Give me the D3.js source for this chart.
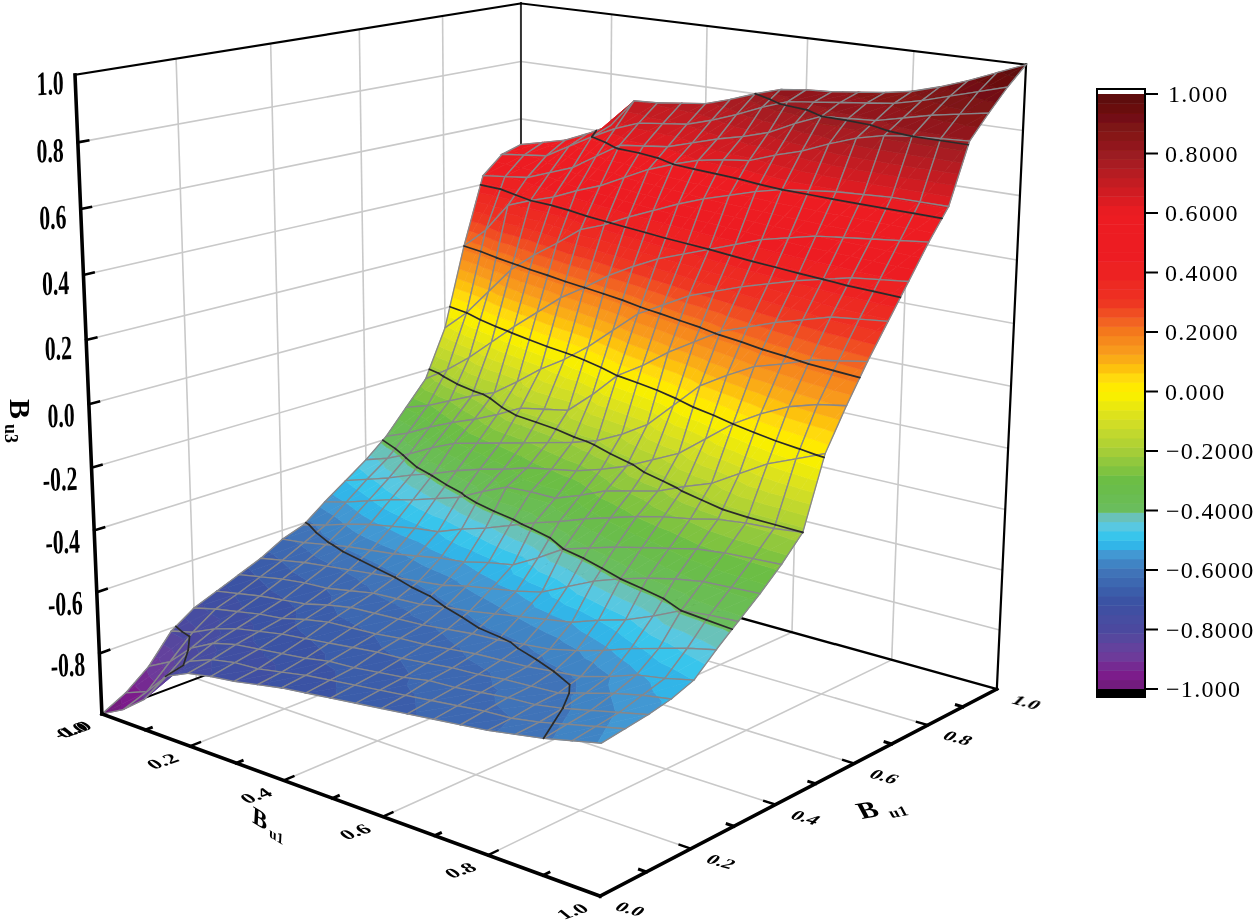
<!DOCTYPE html>
<html>
<head>
<meta charset="utf-8">
<script src="https://cdnjs.cloudflare.com/ajax/libs/d3/7.8.5/d3.min.js"></script>
<style>
html, body { margin: 0; padding: 0; background: #fff; }
text { font-family: "Liberation Serif", serif; fill: #000; }
</style>
</head>
<body>
<div id="chart"></div>
<script>
// grid of the surface, columns are Bu1 (x), rows are Bu2 (y)
const xValues = d3.range(21).map(i => i / 20)
const yValues = d3.range(21).map(i => i / 20)
const zRows = [
  [-1.00,-0.96,-0.90,-0.80,-0.765,-0.75,-0.74,-0.725,-0.71,-0.70,-0.69,-0.68,-0.67,-0.66,-0.65,-0.64,-0.63,-0.615,-0.60,-0.58,-0.56],
  [-0.96,-0.93,-0.85,-0.78,-0.75,-0.735,-0.73,-0.715,-0.70,-0.69,-0.68,-0.67,-0.66,-0.65,-0.64,-0.63,-0.625,-0.61,-0.59,-0.57,-0.55],
  [-0.90,-0.86,-0.79,-0.75,-0.73,-0.72,-0.71,-0.70,-0.685,-0.68,-0.67,-0.66,-0.645,-0.64,-0.63,-0.62,-0.615,-0.60,-0.58,-0.56,-0.54],
  [-0.81,-0.79,-0.755,-0.73,-0.715,-0.70,-0.69,-0.68,-0.67,-0.66,-0.655,-0.645,-0.635,-0.63,-0.62,-0.615,-0.61,-0.585,-0.56,-0.54,-0.525],
  [-0.76,-0.74,-0.725,-0.71,-0.70,-0.68,-0.665,-0.66,-0.655,-0.645,-0.64,-0.63,-0.62,-0.615,-0.61,-0.60,-0.59,-0.565,-0.535,-0.52,-0.50],
  [-0.73,-0.715,-0.70,-0.69,-0.68,-0.66,-0.645,-0.64,-0.635,-0.63,-0.62,-0.61,-0.605,-0.595,-0.585,-0.565,-0.54,-0.51,-0.485,-0.46,-0.44],
  [-0.70,-0.685,-0.67,-0.66,-0.655,-0.64,-0.625,-0.62,-0.615,-0.60,-0.59,-0.575,-0.56,-0.545,-0.53,-0.50,-0.475,-0.44,-0.40,-0.39,-0.385],
  [-0.67,-0.655,-0.64,-0.63,-0.62,-0.61,-0.60,-0.59,-0.58,-0.56,-0.545,-0.53,-0.51,-0.47,-0.43,-0.40,-0.375,-0.355,-0.34,-0.335,-0.33],
  [-0.63,-0.62,-0.605,-0.59,-0.58,-0.57,-0.555,-0.54,-0.53,-0.51,-0.495,-0.45,-0.40,-0.375,-0.35,-0.33,-0.31,-0.29,-0.28,-0.275,-0.27],
  [-0.605,-0.585,-0.56,-0.54,-0.525,-0.51,-0.50,-0.47,-0.445,-0.415,-0.385,-0.36,-0.33,-0.305,-0.28,-0.26,-0.245,-0.225,-0.215,-0.21,-0.20],
  [-0.55,-0.53,-0.505,-0.48,-0.46,-0.435,-0.41,-0.37,-0.335,-0.33,-0.33,-0.30,-0.265,-0.245,-0.225,-0.19,-0.16,-0.11,-0.06,-0.025,0.01],
  [-0.50,-0.475,-0.45,-0.42,-0.395,-0.365,-0.34,-0.32,-0.295,-0.28,-0.265,-0.24,-0.21,-0.17,-0.13,-0.065,0.00,0.05,0.09,0.115,0.13],
  [-0.45,-0.425,-0.39,-0.35,-0.315,-0.295,-0.275,-0.255,-0.235,-0.215,-0.19,-0.15,-0.10,-0.02,0.06,0.11,0.155,0.18,0.21,0.225,0.24],
  [-0.39,-0.36,-0.32,-0.285,-0.255,-0.22,-0.18,-0.165,-0.15,-0.08,0.00,0.05,0.11,0.16,0.21,0.24,0.27,0.295,0.32,0.33,0.34],
  [-0.31,-0.285,-0.25,-0.215,-0.185,-0.13,-0.07,-0.02,0.04,0.11,0.18,0.225,0.27,0.30,0.33,0.355,0.38,0.40,0.42,0.43,0.44],
  [-0.23,-0.18,-0.12,-0.05,0.02,0.085,0.15,0.20,0.255,0.30,0.34,0.37,0.40,0.43,0.46,0.48,0.50,0.51,0.52,0.53,0.54],
  [-0.07,0.00,0.09,0.18,0.245,0.30,0.36,0.39,0.43,0.465,0.50,0.53,0.555,0.58,0.60,0.61,0.62,0.625,0.63,0.63,0.63],
  [0.20,0.27,0.37,0.40,0.425,0.46,0.49,0.53,0.57,0.60,0.625,0.64,0.65,0.68,0.705,0.74,0.77,0.79,0.80,0.805,0.81],
  [0.43,0.44,0.45,0.48,0.51,0.56,0.61,0.62,0.63,0.655,0.68,0.70,0.725,0.765,0.80,0.805,0.81,0.83,0.85,0.865,0.88],
  [0.49,0.50,0.51,0.555,0.60,0.64,0.67,0.68,0.69,0.715,0.745,0.78,0.81,0.82,0.83,0.84,0.85,0.87,0.895,0.92,0.945],
  [0.51,0.53,0.55,0.585,0.625,0.72,0.725,0.735,0.745,0.77,0.80,0.825,0.835,0.84,0.85,0.86,0.875,0.90,0.93,0.965,1.00]
]

const axisTicks = [0.2, 0.4, 0.6, 0.8]
const zTicks = [-0.8, -0.6, -0.4, -0.2, 0, 0.2, 0.4, 0.6, 0.8]
const zLabels = ['-0.8', '-0.6', '-0.4', '-0.2', '0.0', '0.2', '0.4', '0.6', '0.8']
const contourLevels = [-0.8, -0.6, -0.4, -0.2, 0, 0.2, 0.4, 0.6, 0.8]
const barTicks = [1, 0.8, 0.6, 0.4, 0.2, 0, -0.2, -0.4, -0.6, -0.8, -1]
const barLabels = ['1.000', '0.8000', '0.6000', '0.4000', '0.2000', '0.000', '\u22120.2000', '\u22120.4000', '\u22120.6000', '\u22120.8000', '\u22121.000']

const colorLevels = [-1, -0.95, -0.88, -0.8, -0.7, -0.6, -0.55, -0.5, -0.45, -0.41, -0.39, -0.3, -0.2, -0.1, 0, 0.05, 0.1, 0.15, 0.2, 0.25, 0.3, 0.4, 0.6, 0.7, 0.8, 0.9, 1]
const colorStops = ['#6f1f78', '#7c1f8c', '#6a3f9c', '#4d4a9f', '#3a53a4', '#3f76ba', '#4495d1', '#29c3f2', '#5cc8e0', '#6ec0a8', '#6abd5a', '#6abd45', '#a6ce39', '#d4de25', '#fff200', '#ffd80a', '#fbb116', '#f7941d', '#f47a1f', '#f15a22', '#ee3524', '#ed2024', '#ed1c24', '#c41e24', '#9a1c20', '#7a1214', '#5a0a0a']

// where the box corners sit on the page: [x, y, z, pageX, pageY]
const boxCorners = [
  [0, 0, 0, 102, 713], [1, 0, 0, 600, 897], [1, 1, 0, 997, 688], [0, 1, 0, 521, 558],
  [0, 0, 1, 75, 75], [0, 1, 1, 521, 3], [1, 1, 1, 1026, 65]
]

const width = 1255, height = 923
const bandCount = 64

// least squares fit of the perspective matrix from the corners
function fitCamera(pts) {
  const rows = []
  pts.forEach(([x, y, z, X, Y]) => {
    rows.push([1, x, y, z, 0, 0, 0, 0, -X * x, -X * y, -X * z, X])
    rows.push([0, 0, 0, 0, 1, x, y, z, -Y * x, -Y * y, -Y * z, Y])
  })
  const n = 11
  const m = d3.range(n).map(i => d3.range(n + 1).map(j => d3.sum(rows, r => r[i] * r[j])))
  for (let c = 0; c < n; c++) {
    let p = c
    for (let r = c + 1; r < n; r++) if (Math.abs(m[r][c]) > Math.abs(m[p][c])) p = r
    ;[m[c], m[p]] = [m[p], m[c]]
    for (let r = 0; r < n; r++) {
      if (r === c) continue
      const f = m[r][c] / m[c][c]
      for (let k = c; k <= n; k++) m[r][k] -= f * m[c][k]
    }
  }
  return d3.range(n).map(i => m[i][n] / m[i][i])
}
const cam = fitCamera(boxCorners)

const xScale = d3.scaleLinear().domain([0, 1]).range([0, 1])
const yScale = d3.scaleLinear().domain([0, 1]).range([0, 1])
const zScale = d3.scaleLinear().domain([-1, 1]).range([0, 1])

function project(xv, yv, zv) {
  const x = xScale(xv), y = yScale(yv), z = zScale(zv)
  const w = 1 + cam[8] * x + cam[9] * y + cam[10] * z
  return [
    (cam[0] + cam[1] * x + cam[2] * y + cam[3] * z) / w,
    (cam[4] + cam[5] * x + cam[6] * y + cam[7] * z) / w
  ]
}

const colorOf = d3.scaleLinear().domain(colorLevels).range(colorStops).interpolate(d3.interpolateRgb)
const bandOf = z => Math.min(bandCount - 1, Math.floor((z + 1) / 2 * bandCount))
const bandLow = k => -1 + k * 2 / bandCount
const bandColor = k => colorOf(bandLow(k) + 1 / bandCount)

const line3d = d3.line().x(p => p[0]).y(p => p[1])
const path3d = pts => line3d(pts.map(p => project(p[0], p[1], p[2])))

const svg = d3.select('#chart').append('svg')
  .attr('width', width)
  .attr('height', height)
  .style('display', 'block')

const defs = svg.append('defs')
defs.append('filter').attr('id', 'soft')
  .attr('filterUnits', 'userSpaceOnUse')
  .attr('x', 0).attr('y', 0).attr('width', width).attr('height', height)
  .append('feGaussianBlur').attr('stdDeviation', 0.5)

const root = svg.append('g').attr('filter', 'url(#soft)')

// walls and floor grid
const grid = root.append('g').attr('fill', 'none').attr('stroke', '#c9c9c9').attr('stroke-width', 1.6)
function gridLine(a, b) { grid.append('path').attr('d', path3d([a, b])) }
axisTicks.forEach(t => {
  gridLine([t, 0, -1], [t, 1, -1])
  gridLine([0, t, -1], [1, t, -1])
  gridLine([0, t, -1], [0, t, 1])
  gridLine([t, 1, -1], [t, 1, 1])
})
zTicks.forEach(t => {
  gridLine([0, 0, t], [0, 1, t])
  gridLine([0, 1, t], [1, 1, t])
})

// box lines behind the surface
const box = root.append('g').attr('fill', 'none').attr('stroke', '#000').attr('stroke-linecap', 'square')
function boxLine(a, b, w, c) {
  box.append('path').attr('d', path3d([a, b])).attr('stroke-width', w).attr('stroke', c || '#000')
}
boxLine([0, 0, -1], [0, 1, -1], 2)
boxLine([0, 1, -1], [1, 1, -1], 2.4)
boxLine([0, 1, -1], [0, 1, 1], 2, '#333')
boxLine([0, 0, 1], [0, 1, 1], 2.2)
boxLine([0, 1, 1], [1, 1, 1], 2)
boxLine([1, 1, -1], [1, 1, 1], 2.2)

// cut one triangle to the part between two z values
function clipZ(poly, limit, keepAbove) {
  const out = []
  poly.forEach((p, i) => {
    const q = poly[(i + 1) % poly.length]
    const pIn = keepAbove ? p[2] >= limit : p[2] <= limit
    const qIn = keepAbove ? q[2] >= limit : q[2] <= limit
    if (pIn) out.push(p)
    if (pIn !== qIn) {
      const t = (limit - p[2]) / (q[2] - p[2])
      out.push([p[0] + t * (q[0] - p[0]), p[1] + t * (q[1] - p[1]), limit])
    }
  })
  return out
}

// contour pieces across one grid cell
function cellContours(quad, level) {
  const hits = []
  quad.forEach((p, i) => {
    const q = quad[(i + 1) % 4]
    if ((p[2] < level) !== (q[2] < level)) {
      const t = (level - p[2]) / (q[2] - p[2])
      hits.push([p[0] + t * (q[0] - p[0]), p[1] + t * (q[1] - p[1]), level])
    }
  })
  const segs = []
  for (let i = 0; i + 1 < hits.length; i += 2) segs.push([hits[i], hits[i + 1]])
  return segs
}

// painter's order, far corner first
const surface = root.append('g')
const contourSegments = []
for (let j = yValues.length - 2; j >= 0; j--) {
  for (let i = 0; i < xValues.length - 1; i++) {
    const a = [xValues[i], yValues[j], zRows[j][i]]
    const b = [xValues[i + 1], yValues[j], zRows[j][i + 1]]
    const c = [xValues[i + 1], yValues[j + 1], zRows[j + 1][i + 1]]
    const d = [xValues[i], yValues[j + 1], zRows[j + 1][i]]
    const cell = surface.append('g')
    const polys = []
    ;[[a, b, c], [a, c, d]].forEach(tri => {
      const zs = tri.map(p => p[2])
      const kMin = bandOf(d3.min(zs)), kMax = bandOf(d3.max(zs))
      for (let k = kMin; k <= kMax; k++) {
        let poly = clipZ(tri, bandLow(k), true)
        if (poly.length) poly = clipZ(poly, bandLow(k + 1), false)
        if (poly.length > 2) polys.push({ poly, k })
      }
    })
    contourLevels.forEach(level => {
      cellContours([a, b, c, d], level).forEach(s => contourSegments.push(s))
    })
    cell.selectAll('path.band')
      .data(polys)
      .enter()
      .append('path')
      .attr('class', 'band')
      .attr('d', d => path3d(d.poly) + 'Z')
      .attr('fill', d => bandColor(d.k))
      .attr('stroke', d => bandColor(d.k))
      .attr('stroke-width', 0.7)
    cell.append('path')
      .attr('d', path3d([a, b, c, d]) + 'Z')
      .attr('fill', 'none')
      .attr('stroke', '#87878a')
      .attr('stroke-width', 1.35)
  }
}

root.append('g').selectAll('path')
  .data(contourSegments)
  .enter()
  .append('path')
  .attr('d', d => path3d(d))
  .attr('fill', 'none')
  .attr('stroke', '#2b2b2b')
  .attr('stroke-width', 1.7)
  .attr('stroke-linecap', 'round')

// front axes
const axes = root.append('g').attr('fill', 'none').attr('stroke', '#000').attr('stroke-linecap', 'square')
function axisLine(a, b, w) { axes.append('path').attr('d', path3d([a, b])).attr('stroke-width', w) }
axisLine([0, 0, -1], [0, 0, 1], 3.6)
axisLine([0, 0, -1], [1, 0, -1], 3.6)
axisLine([1, 0, -1], [1, 1, -1], 3.6)

const minorTicks = [0.1, 0.3, 0.5, 0.7, 0.9]
minorTicks.forEach(t => {
  axisLine([t, 0, -1], [t, 0.012, -1], 3)
  axisLine([1, t, -1], [0.988, t, -1], 3)
})
axisTicks.forEach(t => {
  axisLine([t, 0, -1], [t, 0.02, -1], 2.4)
  axisLine([1, t, -1], [0.98, t, -1], 2.4)
})
zTicks.forEach(t => axisLine([0, 0, t], [0, 0.02, t], 2.6))

// labels, squeezed so that they look laid on the walls and the floor
const labels = root.append('g').attr('font-weight', 'bold')
function putText(str, x, y, m, size, anchor) {
  return labels.append('text')
    .attr('transform', `matrix(${m[0]},${m[1]},${m[2]},${m[3]},${x},${y})`)
    .attr('font-size', size)
    .attr('text-anchor', anchor || 'middle')
    .text(str)
}
const wallM = [0.99, -0.05, 0.03, 1.55]
const floorLeftM = [0.92, -0.32, 0.62, 0.5]
const floorRightM = [0.93, 0.26, -0.55, 0.55]

zTicks.concat([1]).forEach((t, i) => {
  const p = project(0, 0, t)
  const s = t === 1 ? '1.0' : zLabels[i]
  const dy = t === 1 ? 19 : (t > 0.1 ? 19 : 22)
  putText(s, p[0] - (t === 1 ? 11 : 14), p[1] + dy, wallM, 22, 'end')
})

axisTicks.concat([1]).forEach(t => {
  const p = project(t, 0, -1)
  putText(d3.format('.1f')(t), p[0] - 23, p[1] + 19, floorLeftM, 23)
})
;[0].concat(axisTicks, [1]).forEach(t => {
  const p = project(1, t, -1)
  putText(d3.format('.1f')(t), p[0] + 26, p[1] + 17, floorRightM, 22)
})
const corner = project(0, 0, -1)
putText('-1.0', corner[0] - 25, corner[1] + 20, floorLeftM, 23)
putText('0.0', corner[0] - 25, corner[1] + 20, floorLeftM, 23)

// axis titles
function title(x, y, m, size, sub, gap) {
  const t = putText('B', x, y, m, size, 'start')
  t.append('tspan').attr('font-size', size * 0.6).attr('dx', gap).attr('dy', size * 0.16).text(sub)
}
title(10, 399, [0, 1, -1, 0], 30, 'u3', 5)
title(252, 822, [0.82, 0.5, -0.05, 0.9], 27, 'u1', 3)
title(862, 819, [0.95, -0.16, 0.4, 0.75], 30, 'u1', 9)

// colour bar
const barScale = d3.scaleLinear().domain([-1, 1]).range([689, 94])
const bar = root.append('g')
const bandBottoms = d3.range(bandCount)
bar.selectAll('rect')
  .data(bandBottoms)
  .enter()
  .append('rect')
  .attr('x', 1097)
  .attr('y', k => barScale(bandLow(k + 1)))
  .attr('width', 48)
  .attr('height', k => barScale(bandLow(k)) - barScale(bandLow(k + 1)) + 0.5)
  .attr('fill', k => bandColor(k))
bar.append('rect').attr('x', 1097).attr('y', 689).attr('width', 48).attr('height', 8).attr('fill', '#000')
bar.append('rect').attr('x', 1097).attr('y', 89).attr('width', 48).attr('height', 608)
  .attr('fill', 'none').attr('stroke', '#000').attr('stroke-width', 2)

bar.selectAll('line')
  .data(barTicks)
  .enter()
  .append('line')
  .attr('x1', 1145).attr('x2', 1158)
  .attr('y1', d => barScale(d)).attr('y2', d => barScale(d))
  .attr('stroke', '#000').attr('stroke-width', 2)
bar.selectAll('text')
  .data(barTicks)
  .enter()
  .append('text')
  .attr('x', (d, i) => i === 0 ? 1168 : (d < 0 ? 1166 : 1165))
  .attr('y', d => barScale(d) + 8)
  .attr('font-size', 24)
  .attr('font-weight', 'normal')
  .attr('letter-spacing', 1.3)
  .text((d, i) => barLabels[i])
</script>
</body>
</html>
